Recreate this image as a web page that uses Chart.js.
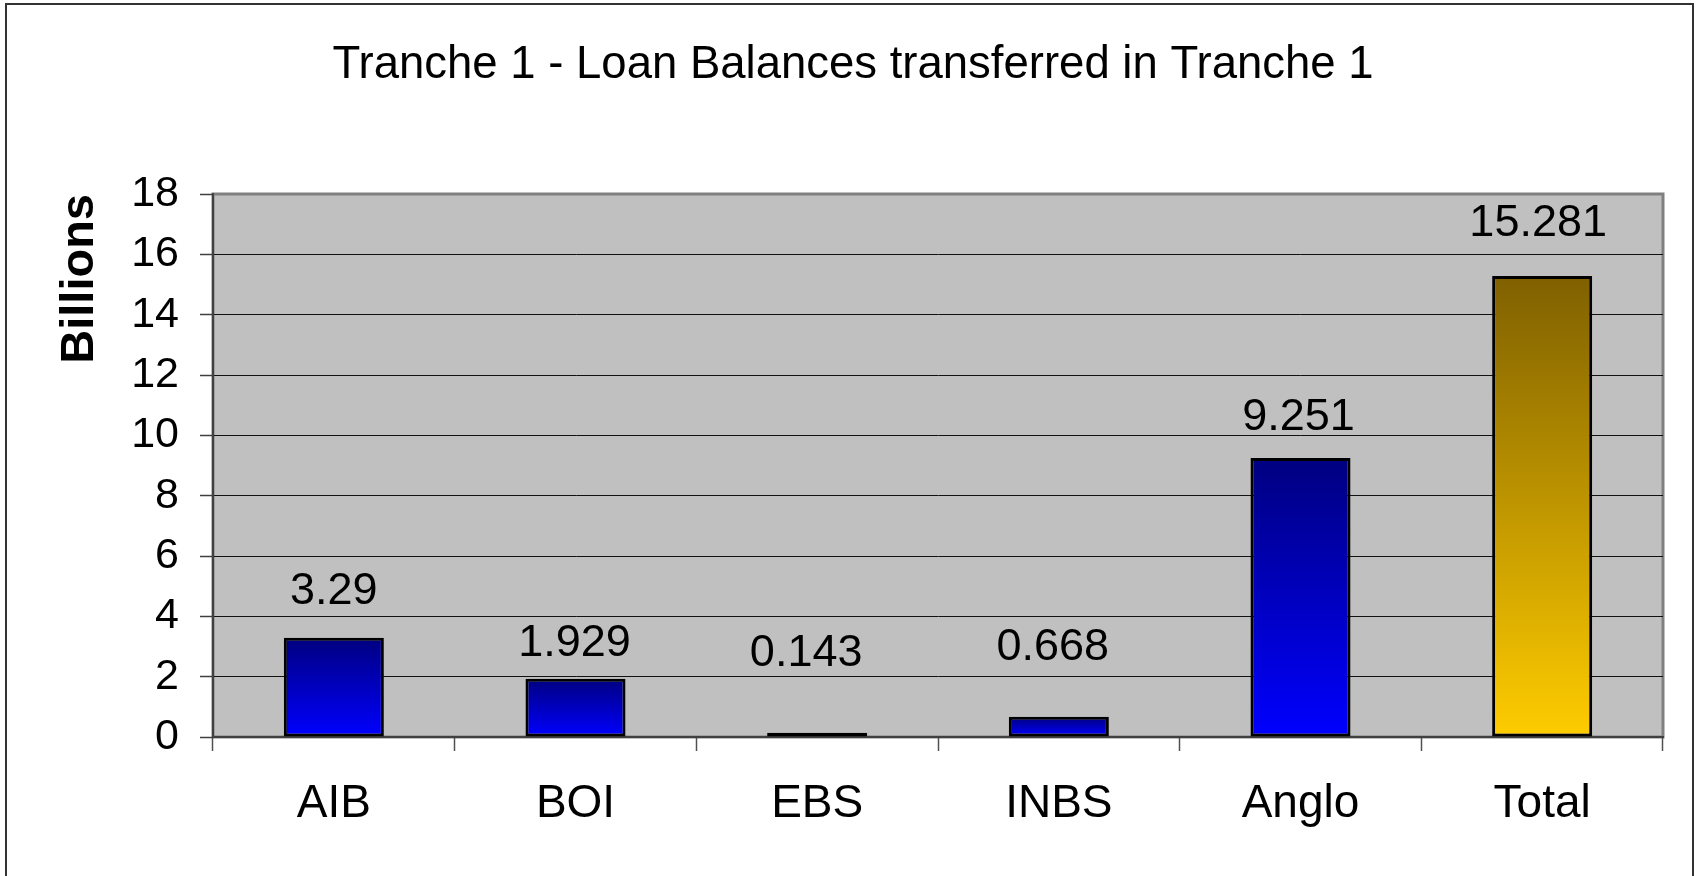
<!DOCTYPE html>
<html>
<head>
<meta charset="utf-8">
<script src="https://cdn.jsdelivr.net/npm/chart.js@4/dist/chart.umd.min.js"></script>
<style>
  html, body { margin: 0; padding: 0; background: #ffffff; }
  #wrap { width: 1698px; height: 876px; position: relative; }
</style>
</head>
<body>
<div id="wrap"><canvas id="c" width="1698" height="876"></canvas></div>
<script>
// ---- data ----
const categories = ["AIB", "BOI", "EBS", "INBS", "Anglo", "Total"];
const loanBalances = [3.29, 1.929, 0.143, 0.668, 9.251, 15.281];
const valueLabels = ["3.29", "1.929", "0.143", "0.668", "9.251", "15.281"];
const chartTitle = "Tranche 1 - Loan Balances transferred in Tranche 1";
const yAxisTitle = "Billions";
const yMin = 0, yMax = 18, yStep = 2;

// ---- styling (not data) ----
const FONT = "'Liberation Sans', Arial, sans-serif";
const labelLift = [34, 23, 67, 57, 28, 40];   // px above bar top (label baseline)
const labelShift = [0, -1, -11, -6, -2, -4];  // px horizontal nudge
const gradTop = ["#000080", "#000080", "#000080", "#000080", "#000080", "#7F6000"];
const gradBottom = ["#0000FF", "#0000FF", "#0000FF", "#0000FF", "#0000FF", "#FFCC00"];

function barGradient(ctx) {
  const chart = ctx.chart;
  const ys = chart.scales.y;
  const i = ctx.dataIndex || 0;
  if (!ys || ctx.type !== 'data') return gradBottom[i];
  const top = ys.getPixelForValue(loanBalances[i]);
  const base = ys.getPixelForValue(0);
  if (!isFinite(top) || !isFinite(base) || top === base) return gradBottom[i];
  const g = chart.ctx.createLinearGradient(0, top, 0, base);
  g.addColorStop(0, gradTop[i]);
  g.addColorStop(1, gradBottom[i]);
  return g;
}

const plotFrame = {
  id: 'plotFrame',
  beforeDraw(chart) {
    const {ctx, chartArea: a} = chart;
    ctx.save();
    ctx.fillStyle = '#C0C0C0';
    ctx.fillRect(a.left, a.top, a.right - a.left, a.bottom - a.top);
    ctx.strokeStyle = '#808080';
    ctx.lineWidth = 3;
    ctx.strokeRect(a.left, a.top, a.right - a.left, a.bottom - a.top);
    ctx.restore();
  },
  afterDatasetsDraw(chart) {
    const {ctx} = chart;
    const meta = chart.getDatasetMeta(0);
    ctx.save();
    ctx.fillStyle = '#000';
    ctx.font = "45px " + FONT;
    ctx.textAlign = 'center';
    ctx.textBaseline = 'alphabetic';
    meta.data.forEach((bar, i) => {
      ctx.fillText(valueLabels[i], bar.x + labelShift[i], bar.y - labelLift[i]);
    });
    ctx.restore();
  },
  afterDraw(chart) {
    const {ctx, height} = chart;
    ctx.save();
    ctx.strokeStyle = '#333333';
    ctx.lineWidth = 2;
    ctx.beginPath();
    ctx.moveTo(6, height);
    ctx.lineTo(6, 4);
    ctx.lineTo(1693, 4);
    ctx.lineTo(1693, height);
    ctx.stroke();
    ctx.restore();
  }
};

new Chart(document.getElementById('c'), {
  type: 'bar',
  data: {
    labels: categories,
    datasets: [{
      data: loanBalances,
      backgroundColor: barGradient,
      borderColor: '#000000',
      borderWidth: 3,
      borderSkipped: false,
      barPercentage: 0.414,
      categoryPercentage: 1.0
    }]
  },
  options: {
    responsive: false,
    animation: false,
    devicePixelRatio: 1,
    layout: { padding: { left: 43, right: 35, top: 0, bottom: 0 } },
    plugins: {
      legend: { display: false },
      tooltip: { enabled: false },
      title: {
        display: true,
        text: chartTitle,
        color: '#000',
        font: { family: FONT, size: 45.5, weight: 'normal', lineHeight: 1.2 },
        padding: { top: 38, bottom: 101.4 }
      }
    },
    scales: {
      x: {
        offset: true,
        grid: {
          drawOnChartArea: false,
          drawTicks: true,
          tickLength: 14,
          tickColor: '#505050',
          tickWidth: 1.5,
          offset: true
        },
        border: { display: true, color: '#404040', width: 2 },
        ticks: {
          color: '#000',
          font: { family: FONT, size: 46 },
          padding: 26,
          maxRotation: 0,
          autoSkip: false
        },
        afterFit(scale) { scale.height = 139; }
      },
      y: {
        min: yMin,
        max: yMax,
        grid: {
          color: (c) => (c.tick && (c.tick.value === yMax || c.tick.value === yMin)) ? 'rgba(0,0,0,0)' : '#111111',
          lineWidth: 1,
          drawTicks: true,
          tickLength: 13,
          tickColor: '#404040',
          tickWidth: 1.5
        },
        border: { display: true, color: '#404040', width: 2 },
        ticks: {
          stepSize: yStep,
          color: '#000',
          font: { family: FONT, size: 43 },
          padding: 21
        },
        title: {
          display: true,
          text: yAxisTitle,
          align: 'end',
          color: '#000',
          font: { family: FONT, size: 47, weight: 'bold', lineHeight: 1.2 },
          padding: { top: 9, bottom: 0 }
        },
        afterFit(scale) { scale.width = 170; }
      }
    }
  },
  plugins: [plotFrame]
});
</script>
</body>
</html>
